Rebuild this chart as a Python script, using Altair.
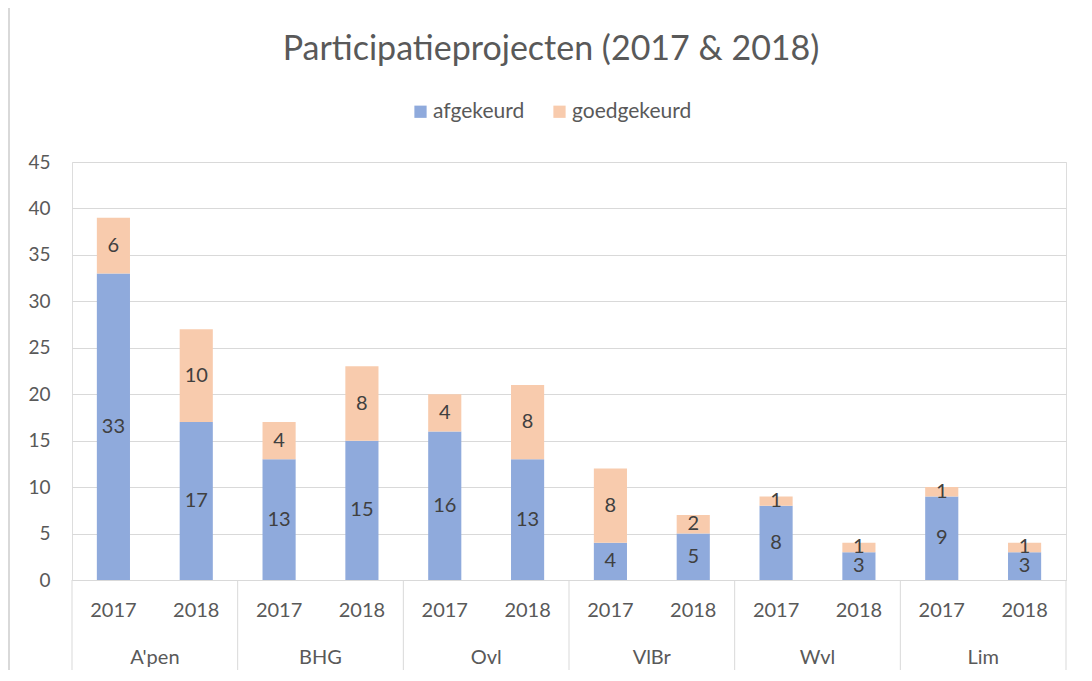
import altair as alt
import pandas as pd

regions = ["A'pen", "BHG", "Ovl", "VlBr", "Wvl", "Lim"]
years = ["2017", "2018"]
afgekeurd = [33, 17, 13, 15, 16, 13, 4, 5, 8, 3, 9, 3]
goedgekeurd = [6, 10, 4, 8, 4, 8, 8, 2, 1, 1, 1, 1]
series = ["afgekeurd", "goedgekeurd"]
colors = ["#8FAADC", "#F8CBAD"]

rows = []
keys = []
i = 0
for r in regions:
    for y in years:
        k = f"{r}|{y}"
        keys.append(k)
        rows.append({"key": k, "serie": "afgekeurd", "order": 0, "value": afgekeurd[i]})
        rows.append({"key": k, "serie": "goedgekeurd", "order": 1, "value": goedgekeurd[i]})
        i += 1
df = pd.DataFrame(rows)

reg_df = pd.DataFrame({"region": regions, "pos": [2 * j + 1 for j in range(len(regions))]})
sep_df = pd.DataFrame({"pos": [2 * j for j in range(len(regions) + 1)]})

W, H = 994, 418
FONT = "Lato"
GREY = "#595959"

bandscale = alt.Scale(paddingInner=0.6, paddingOuter=0.3)
xband = alt.X("key:N", sort=keys, scale=bandscale,
              axis=alt.Axis(title=None, labelExpr="split(datum.label, '|')[1]",
                            labelAngle=0, ticks=False, domainColor="#d9d9d9",
                            labelFontSize=20, labelColor=GREY, labelFont=FONT,
                            labelPadding=20, grid=False))

ysc = alt.Scale(domain=[0, 45], nice=False)

bars = alt.Chart(df).mark_bar().encode(
    x=xband,
    y=alt.Y("value:Q", stack="zero", scale=ysc,
            axis=alt.Axis(title=None, values=list(range(0, 50, 5)), ticks=False, domain=False,
                          labelFontSize=19, labelColor=GREY, labelFont=FONT, labelPadding=22,
                          gridColor="#d9d9d9")),
    color=alt.Color("serie:N", scale=alt.Scale(domain=series, range=colors),
                    legend=alt.Legend(title=None, orient="none", direction="horizontal",
                                      legendX=338, legendY=-61, symbolType="square",
                                      symbolSize=150, symbolStrokeWidth=0,
                                      labelFontSize=21, labelColor=GREY, labelFont=FONT,
                                      labelOffset=2, columnPadding=24, symbolOpacity=1)),
    order=alt.Order("order:Q"),
)

labels = alt.Chart(df).transform_stack(
    stack="value", groupby=["key"], as_=["y0", "y1"], sort=[alt.SortField("order")]
).transform_calculate(mid="(datum.y0 + datum.y1) / 2").mark_text(
    fontSize=20, color="#404040", font=FONT, baseline="middle"
).encode(
    x=xband,
    y=alt.Y("mid:Q", scale=ysc),
    text="value:Q",
)

main = alt.layer(bars, labels)

xq = alt.X("pos:Q", scale=alt.Scale(domain=[0, 12], nice=False, zero=False), axis=None)

reg_text = alt.Chart(reg_df).mark_text(
    fontSize=20, color=GREY, font=FONT, baseline="middle"
).encode(x=xq, y=alt.value(H + 78), text="region:N")

seps = alt.Chart(sep_df).mark_rule(color="#d9d9d9", strokeWidth=1).encode(
    x=xq, y=alt.value(H), y2=alt.value(H + 92)
)

frame = alt.Chart(sep_df).mark_rule(color="#d9d9d9", strokeWidth=1.5).encode(
    x=alt.value(-63), y=alt.value(-162), y2=alt.value(H + 110)
)

chart = alt.layer(main, seps, reg_text, frame).resolve_scale(x="independent").properties(
    width=W, height=H,
    title=alt.Title("Participatieprojecten (2017 & 2018)", fontSize=34, color=GREY,
                    font=FONT, fontWeight="normal", offset=-68, dx=-18, anchor="middle"),
    autosize=alt.AutoSizeParams(type="none"),
    padding={"left": 64, "top": 154, "right": 18, "bottom": 90},
).configure_view(stroke=None).configure(background="white")

chart.save("out.html", embed_options={"renderer": "svg", "actions": False})
